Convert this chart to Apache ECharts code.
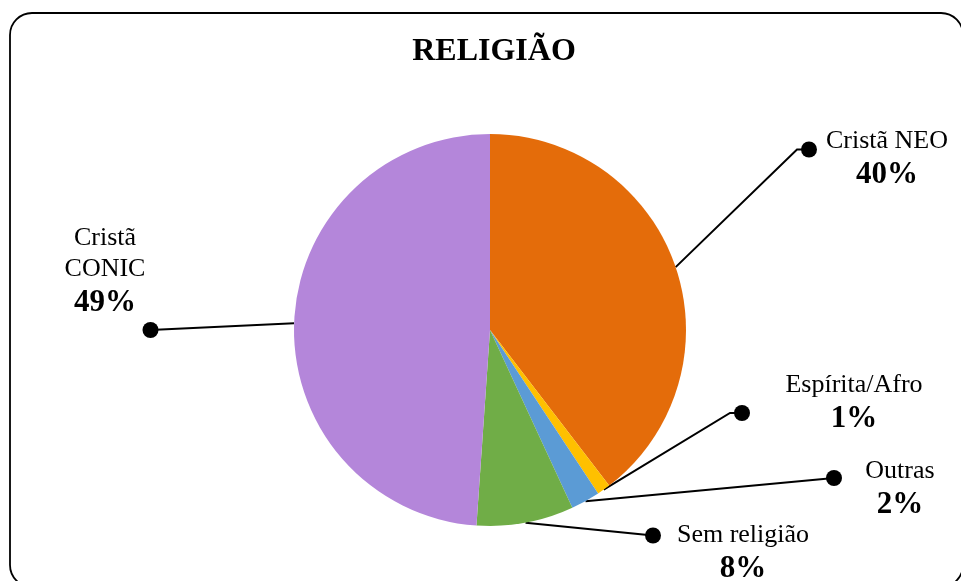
<!DOCTYPE html>
<html>
<head>
<meta charset="utf-8">
<script src="https://cdn.jsdelivr.net/npm/echarts@6/dist/echarts.min.js"></script>
<style>
html,body{margin:0;padding:0;background:#fff;}
#chart{width:961px;height:581px;}
</style>
</head>
<body>
<div id="chart"></div>
<script>
// ---- data ----
const categories = ['Cristã NEO', 'Espírita/Afro', 'Outras', 'Sem religião', 'Cristã CONIC'];
const values = [39.6, 1.1, 2.4, 8.0, 48.9];
const colors = ['#E46C0A', '#FFC000', '#5B9BD5', '#70AD47', '#B486DA'];
const chartTitle = 'RELIGIÃO';

// ---- layout (positions of labels / callout dots, in px) ----
const labelPos = [[887, 159.5], [854, 403], [900, 489], [743, 553], [105, 272]];
const dotPos = [[809, 149.5], [742, 413], [834, 478], [653, 535.5], [150.5, 330]];
const elbowPos = [[797, 149.5], [730, 413], null, null, null];
const wrapName = [false, false, false, false, true];

const total = values.reduce((a, b) => a + b, 0);
const FONT = "'Liberation Serif','Times New Roman',serif";

const chart = echarts.init(document.getElementById('chart'), null, {renderer: 'canvas'});

const pieData = categories.map((c, i) => ({name: c, value: values[i], itemStyle: {color: colors[i]}}));
const dotData = categories.map((c, i) => ({name: c, value: values[i]}));

const option = {
  backgroundColor: '#fff',
  animation: false,
  title: {
    text: chartTitle,
    left: 494,
    textAlign: 'center',
    top: 36,
    padding: 0,
    textStyle: {fontFamily: FONT, fontSize: 32, fontWeight: 'bold', color: '#000'}
  },
  graphic: [{
    type: 'rect',
    shape: {x: 10, y: 13, width: 953, height: 574, r: 22},
    style: {fill: 'none', stroke: '#000', lineWidth: 1.8},
    silent: true,
    z: 100
  }],
  series: [
    {
      type: 'pie',
      center: [490, 330],
      radius: 196,
      startAngle: 90,
      clockwise: true,
      avoidLabelOverlap: false,
      silent: true,
      data: pieData,
      itemStyle: {borderWidth: 0},
      label: {
        show: true,
        position: 'outside',
        fontFamily: FONT,
        color: '#000',
        formatter: function (p) {
          const name = wrapName[p.dataIndex] ? p.name.replace(' ', '\n') : p.name;
          const pct = Math.round(p.value / total * 100) + '%';
          return name.split('\n').map(s => '{n|' + s + '}').join('\n') + '\n{p|' + pct + '}';
        },
        rich: {
          n: {fontFamily: FONT, fontSize: 26, lineHeight: 31, color: '#000', align: 'center'},
          p: {fontFamily: FONT, fontSize: 31, fontWeight: 'bold', lineHeight: 36, color: '#000', align: 'center'}
        }
      },
      labelLine: {show: false},
      labelLayout: function (params) {
        const pos = labelPos[params.dataIndex];
        return {x: pos[0], y: pos[1], align: 'center', verticalAlign: 'middle'};
      }
    },
    {
      type: 'pie',
      center: [490, 330],
      radius: 196,
      startAngle: 90,
      clockwise: true,
      avoidLabelOverlap: false,
      silent: true,
      data: dotData,
      itemStyle: {color: 'rgba(0,0,0,0)', borderWidth: 0},
      label: {
        show: true,
        position: 'outside',
        formatter: ' ',
        fontSize: 1,
        width: 16,
        height: 16,
        padding: 0,
        borderRadius: 8,
        backgroundColor: '#000'
      },
      labelLine: {show: true, length: 10, length2: 10, lineStyle: {color: '#000', width: 2}},
      labelLayout: function (params) {
        const i = params.dataIndex;
        const d = dotPos[i];
        const start = params.labelLinePoints ? params.labelLinePoints[0] : d;
        const pts = [start];
        if (elbowPos[i]) pts.push(elbowPos[i]);
        pts.push(d);
        return {x: d[0], y: d[1], align: 'center', verticalAlign: 'middle', labelLinePoints: pts};
      }
    }
  ]
};
chart.setOption(option);
</script>
</body>
</html>
